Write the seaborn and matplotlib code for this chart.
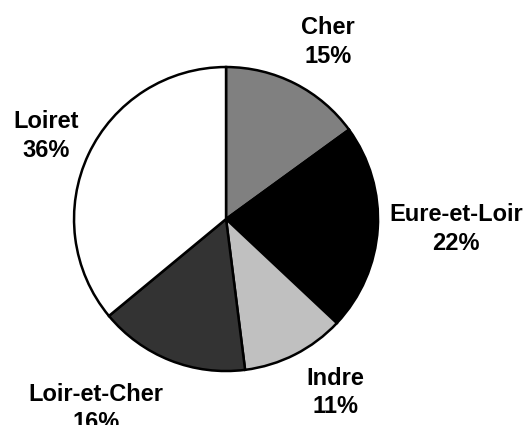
import seaborn as sns
import matplotlib
matplotlib.use("Agg")
import matplotlib.pyplot as plt

# data
regions = ["Cher", "Eure-et-Loir", "Indre", "Loir-et-Cher", "Loiret"]
shares = [15, 22, 11, 16, 36]
slice_colors = ["#808080", "#000000", "#c0c0c0", "#333333", "#ffffff"]

# where each label block sits (in pie-radius units)
label_x = [0.671, 1.513, 0.717, -0.855, -1.184]
label_y = [1.165, -0.065, -1.14, -1.245, 0.545]

sns.set_style("white")
plt.rcParams["font.family"] = ["Liberation Sans", "DejaVu Sans"]

fig = plt.figure(figsize=(5.29, 4.25), dpi=100)
ax = fig.add_axes([0, 0, 1, 1])

ax.pie(shares, colors=slice_colors, startangle=90, counterclock=False,
       radius=1.0, wedgeprops=dict(edgecolor="black", linewidth=1.8))

for name, val, lx, ly in zip(regions, shares, label_x, label_y):
    ax.text(lx, ly, "{}\n{}%".format(name, val), ha="center", va="center",
            fontsize=17, fontweight="bold", color="black", linespacing=1.3)

ax.set_xlim(-1.487, 1.993)
ax.set_ylim(-1.355, 1.441)
ax.set_aspect("auto")
ax.axis("off")

fig.savefig("out.png", dpi=100)
